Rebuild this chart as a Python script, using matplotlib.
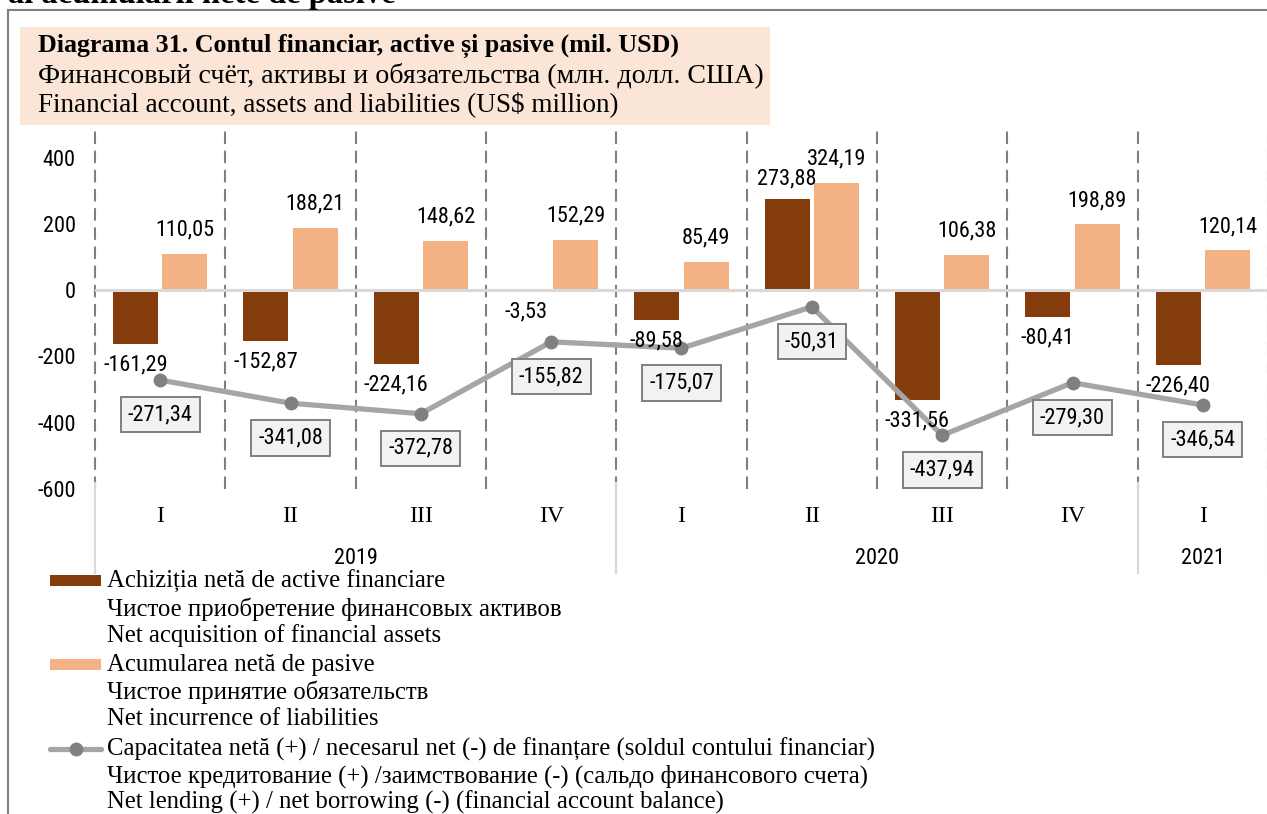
import matplotlib
matplotlib.use("Agg")
import matplotlib.pyplot as plt
from matplotlib import font_manager
from matplotlib.patches import Rectangle
from matplotlib.lines import Line2D
import matplotlib.transforms as mtransforms

# ---------------- data ----------------
quarters = ["I", "II", "III", "IV", "I", "II", "III", "IV", "I"]
years = ["2019", "2020", "2021"]
year_spans = [(0, 3), (4, 7), (8, 8)]
assets = [-161.29, -152.87, -224.16, -3.53, -89.58, 273.88, -331.56, -80.41, -226.40]
liabilities = [110.05, 188.21, 148.62, 152.29, 85.49, 324.19, 106.38, 198.89, 120.14]
balance = [-271.34, -341.08, -372.78, -155.82, -175.07, -50.31, -437.94, -279.30, -346.54]
yticks = [-600, -400, -200, 0, 200, 400]

title_lines = ["Diagrama 31. Contul financiar, active și pasive (mil. USD)",
               "Финансовый счёт, активы и обязательства (млн. долл. США)",
               "Financial account, assets and liabilities (US$ million)"]
legend_assets = ["Achiziția netă de active financiare",
                 "Чистое приобретение финансовых активов",
                 "Net acquisition of financial assets"]
legend_liab = ["Acumularea netă de pasive",
               "Чистое принятие обязательств",
               "Net incurrence of liabilities"]
legend_bal = ["Capacitatea netă (+) / necesarul net (-) de finanțare (soldul contului financiar)",
              "Чистое кредитование (+) /заимствование (-) (сальдо финансового счета)",
              "Net lending (+) / net borrowing (-) (financial account balance)"]
top_cut_text = "al acumulării nete de pasive"

# ---------------- fonts ----------------
def has_font(name):
    try:
        font_manager.findfont(font_manager.FontProperties(family=name), fallback_to_default=False)
        return True
    except Exception:
        return False

NUM_FONT, NUM_SIZE = "Liberation Sans", 14
for name, size in [("Liberation Sans Narrow", 16.5), ("Roboto Condensed", 16)]:
    if has_font(name):
        NUM_FONT, NUM_SIZE = name, size
        break
SERIF = "Liberation Serif"

C_ASSET = "#843C0C"
C_LIAB = "#F4B183"
C_LINE = "#A5A5A5"
C_MARK = "#808080"

W, H = 1267, 814
fig = plt.figure(figsize=(W / 100, H / 100), dpi=100)

def fx(px):
    return px / W

def fy(py):
    return 1 - py / H

# axes placement
left_px, right_px = 95, 1268
top_px, bot_px = 124.5, 489
ax = fig.add_axes([fx(left_px), fy(bot_px), fx(right_px - left_px), (bot_px - top_px) / H])
ax.set_xlim(-0.5, len(quarters) - 0.5)
ax.set_ylim(-600, 500)
for s in ax.spines.values():
    s.set_visible(False)
ax.set_yticks(yticks)
ax.set_yticklabels([str(t) for t in yticks], fontfamily=NUM_FONT, fontsize=NUM_SIZE)
ax.tick_params(axis="y", length=0, pad=14)
ax.set_xticks([])

x = list(range(len(quarters)))
bw = 0.345
off = 0.19

# vertical dashed separators
for k in range(len(quarters) + 1):
    ax.plot([k - 0.5, k - 0.5], [-600, 500], color="#808080", lw=1.5,
            dashes=(6, 3.2), zorder=1, clip_on=False)

xa = [i - off for i in x]
xl = [i + off for i in x]
ax.bar(xa, assets, width=bw, color=C_ASSET, zorder=2)
ax.bar(xl, liabilities, width=bw, color=C_LIAB, zorder=2)

# zero line (drawn over the bars)
ax.axhline(0, color="#D9D9D9", lw=2.2, zorder=3)

ax.plot(x, balance, color=C_LINE, lw=3.8, zorder=4, solid_capstyle="round")
ax.plot(x, balance, ls="none", marker="o", ms=9, color=C_MARK, zorder=5)

def fmt(v):
    return f"{v:.2f}".replace(".", ",")

for xi, v in zip(xa, assets):
    dy = 15 if v > 0 else -15
    ax.annotate(fmt(v), (xi, v), xytext=(0, dy), textcoords="offset points",
                ha="center", va="center", fontfamily=NUM_FONT, fontsize=NUM_SIZE, zorder=6)
for xi, v in zip(xl, liabilities):
    ax.annotate(fmt(v), (xi, v), xytext=(0, 17), textcoords="offset points",
                ha="center", va="center", fontfamily=NUM_FONT, fontsize=NUM_SIZE, zorder=6)
for xi, v in zip(x, balance):
    ax.annotate(fmt(v), (xi, v), xytext=(0, -25), textcoords="offset points",
                ha="center", va="center", fontfamily=NUM_FONT, fontsize=NUM_SIZE, zorder=7,
                bbox=dict(boxstyle="square,pad=0.32", fc="#F2F2F2", ec="#7F7F7F", lw=1.4))

# category axis (two levels)
trans = mtransforms.blended_transform_factory(ax.transData, ax.transAxes)
axh = bot_px - top_px
for xi, q in zip(x, quarters):
    ax.text(xi, -(516 - bot_px) / axh, q, transform=trans, ha="center", va="center",
            fontfamily=SERIF, fontsize=17)
for (a, b), yr in zip(year_spans, years):
    ax.text((a + b) / 2, -(558 - bot_px) / axh, yr,
            transform=trans, ha="center", va="center", fontfamily=NUM_FONT, fontsize=NUM_SIZE)
for (a, b) in year_spans:
    for xb in (a - 0.5, b + 0.5):
        ax.plot([xb, xb], [-(483 - bot_px) / axh, -(573 - bot_px) / axh], transform=trans,
                color="#D9D9D9", lw=1.5, clip_on=False, zorder=1)

# outer frame and cut-off heading
fig.patches.append(Rectangle((fx(8), fy(H + 20)), fx(W + 20), (H + 20 - 10) / H,
                             transform=fig.transFigure, fill=False, ec="#7F7F7F", lw=1.5, zorder=0))
fig.text(fx(8), fy(3), top_cut_text, ha="left", va="baseline", fontfamily=SERIF,
         fontweight="bold", fontsize=23.5)

# title box
fig.patches.append(Rectangle((fx(20), fy(125)), fx(770 - 20), (125 - 27) / H,
                             transform=fig.transFigure, fc="#FBE5D6", ec="none", zorder=8))
ty = [46, 75, 104]
tsizes = [18.7, 20.2, 19.5]
for i, (t, yy, sz) in enumerate(zip(title_lines, ty, tsizes)):
    fig.text(fx(38), fy(yy), t, ha="left", va="center", fontfamily=SERIF,
             fontweight="bold" if i == 0 else "normal", fontsize=sz, zorder=9)

# legend
groups = [(legend_assets, [581, 609, 636], "asset"),
          (legend_liab, [665, 692, 719], "liab"),
          (legend_bal, [749, 776, 802], "line")]
for lines, ys, kind in groups:
    for t, yy in zip(lines, ys):
        fig.text(fx(107), fy(yy), t, ha="left", va="center", fontfamily=SERIF, fontsize=17.8)
    yy = ys[0]
    if kind == "asset":
        fig.patches.append(Rectangle((fx(50), fy(yy + 5)), fx(51), 11 / H,
                                     transform=fig.transFigure, fc=C_ASSET, ec="none"))
    elif kind == "liab":
        fig.patches.append(Rectangle((fx(50), fy(yy + 5)), fx(51), 11 / H,
                                     transform=fig.transFigure, fc=C_LIAB, ec="none"))
    else:
        fig.lines.append(Line2D([fx(50), fx(101)], [fy(yy), fy(yy)], transform=fig.transFigure,
                                color=C_LINE, lw=3.8, solid_capstyle="round"))
        fig.lines.append(Line2D([fx(75.5)], [fy(yy)], transform=fig.transFigure,
                                marker="o", ms=9, color=C_MARK, ls="none"))

fig.savefig("out.png", dpi=100)
